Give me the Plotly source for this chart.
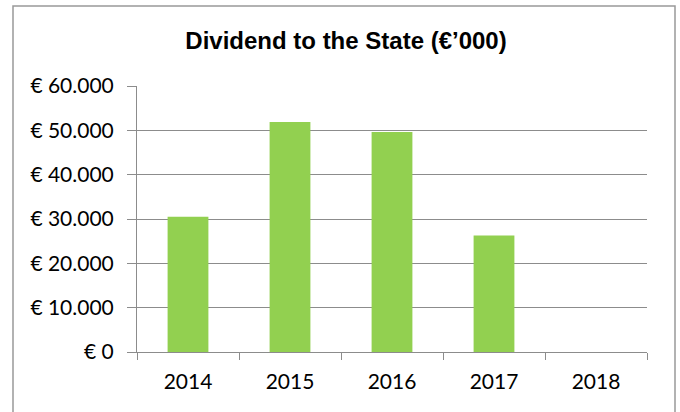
import plotly.graph_objects as go

years = ["2014", "2015", "2016", "2017", "2018"]
dividend = [30500, 51900, 49600, 26300, 0]
y_tickvals = [0, 10000, 20000, 30000, 40000, 50000, 60000]
y_ticktext = ["€ 0", "€ 10.000", "€ 20.000", "€ 30.000", "€ 40.000", "€ 50.000", "€ 60.000"]
title_text = "Dividend to the State (€’000)"

W, H = 680, 412
L, R, T, B = 137, 33, 86, 60
pw, ph = W - L - R, H - T - B

fig = go.Figure()
fig.add_trace(go.Bar(x=years, y=dividend, marker=dict(color="#92D050", line=dict(width=0)), width=0.4))

grid = "#8c8c8c"
fig.update_layout(
    width=W, height=H,
    margin=dict(l=L, r=R, t=T, b=B, autoexpand=False),
    paper_bgcolor="white", plot_bgcolor="white",
    showlegend=False,
    title=dict(text="<b>" + title_text + "</b>", x=346 / W, xref="container", xanchor="center",
               y=1 - 41 / H, yref="container", yanchor="middle",
               font=dict(family="Liberation Sans, Arial", size=24, color="black")),
    font=dict(family="Lato, Calibri, sans-serif", size=21, color="black"),
    xaxis=dict(type="category", showline=True, linecolor=grid, linewidth=1,
               ticks="outside", ticklen=7, tickcolor=grid, tickson="boundaries",
               showgrid=False, tickfont=dict(size=21), automargin=False,
               ticklabelstandoff=11),
    yaxis=dict(range=[0, 60000], tickvals=y_tickvals, ticktext=y_ticktext,
               showline=True, linecolor=grid, linewidth=1,
               ticks="outside", ticklen=9, tickcolor=grid,
               showgrid=True, gridcolor=grid, gridwidth=1, zeroline=False,
               ticklabelstandoff=9, tickfont=dict(size=21), automargin=False),
)

# outer chart frame (extends past bottom edge as in the reference)
fig.add_shape(type="rect", xref="paper", yref="paper",
              x0=(13 - L) / pw, x1=(675 - L) / pw,
              y0=(H - B - 420) / ph, y1=(H - B - 6) / ph,
              line=dict(color="#999999", width=1.5), fillcolor="rgba(0,0,0,0)", layer="below")

fig.write_html("out.html", config={"displayModeBar": False},
               post_script="document.body.style.margin='0';document.body.style.overflow='hidden';")
